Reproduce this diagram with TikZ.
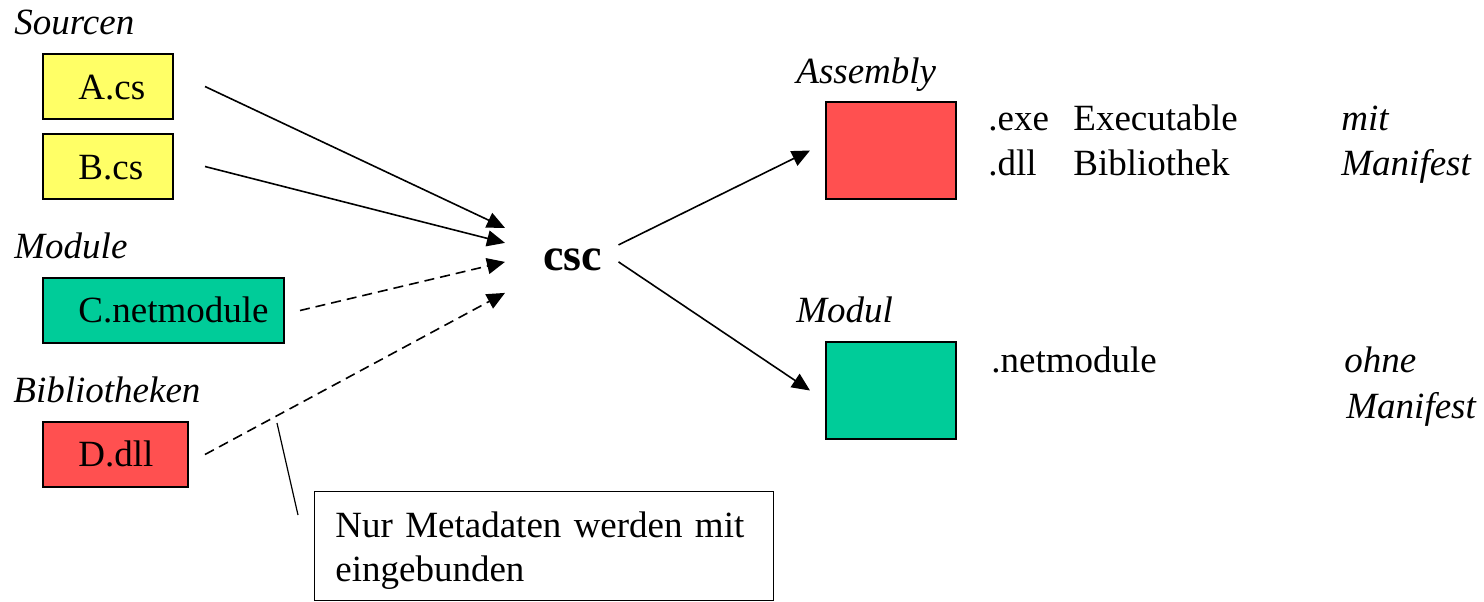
\documentclass[tikz,border=0pt]{standalone}
\usepackage{fontspec}
\setmainfont{Liberation Serif}
\usetikzlibrary{arrows.meta,calc}
\definecolor{srcyellow}{RGB}{255,255,102}
\definecolor{modgreen}{RGB}{0,204,153}
\definecolor{libred}{RGB}{255,80,80}
\begin{document}
\begin{tikzpicture}[x=0.5pt,y=-0.5pt,
  txt/.style={anchor=base west, inner sep=0, font=\fontsize{18.5}{22}\selectfont},
  lbl/.style={anchor=base west, inner sep=0, font=\fontsize{18.5}{22}\selectfont\itshape},
  filebox/.style={draw=black, line width=1pt, anchor=north west, inner sep=0},
  conn/.style={line width=0.8pt, -{Triangle[length=9pt,width=8pt]}},
  dconn/.style={conn, dash pattern=on 5pt off 3pt}]
\useasboundingbox (0,0) rectangle (1484,601);

% left side labels
\node[lbl] (lSrc) at (14,34) {Sourcen};
\node[lbl] (lMod) at (14,258) {Module};
\node[lbl] (lBib) at (13,402) {Bibliotheken};

% input boxes
\node[filebox, fill=srcyellow, minimum width=65pt, minimum height=32.5pt] (A) at (42,53) {};
\node[filebox, fill=srcyellow, minimum width=65pt, minimum height=32.5pt] (B) at (42,133) {};
\node[filebox, fill=modgreen, minimum width=120.5pt, minimum height=32.5pt] (C) at (42,277) {};
\node[filebox, fill=libred, minimum width=72.5pt, minimum height=32.5pt] (D) at (42,421) {};
\node[txt] (tA) at (78,99) {A.cs};
\node[txt] (tB) at (78,179) {B.cs};
\node[txt] (tC) at (78,322) {C.netmodule};
\node[txt] (tD) at (78,466) {D.dll};

% compiler
\node[anchor=base west, inner sep=0, font=\fontsize{23}{27}\selectfont\bfseries] (csc) at (543,270) {csc};
\coordinate (inA) at ($(csc.west)+(-38,-31.5)$);
\coordinate (inB) at ($(csc.west)+(-38,-16.5)$);
\coordinate (inC) at ($(csc.west)+(-38,2.5)$);
\coordinate (inD) at ($(csc.west)+(-38,33.5)$);

% outputs
\node[lbl] (lAsm) at (796,83) {Assembly};
\node[lbl] (lModul) at (796,322) {Modul};
\node[filebox, fill=libred, minimum width=65pt, minimum height=48.5pt] (asm) at (825,101) {};
\node[filebox, fill=modgreen, minimum width=65pt, minimum height=48.5pt] (mod) at (825,341) {};

\node[txt] (exe) at (988,130) {.exe};
\node[txt] (exeT) at (1073,130) {Executable};
\node[lbl] (mit) at (1341,130) {mit};
\node[txt] (dll) at (988,175) {.dll};
\node[txt] (dllT) at (1073,175) {Bibliothek};
\node[lbl] (man1) at (1341,175) {Manifest};
\node[txt] (nm) at (991,372) {.netmodule};
\node[lbl] (ohne) at (1344,372) {ohne};
\node[lbl] (man2) at (1346,418) {Manifest};

% connectors
\draw[conn] ($(A.east)+(31,0)$) -- (inA);
\draw[conn] ($(B.east)+(31,0)$) -- (inB);
\draw[dconn] ($(C.east)+(15,0)$) -- (inC);
\draw[dconn] ($(D.east)+(16,0)$) -- (inD);
\draw[conn] ($(csc.east)+(16,-14.5)$) -- ($(asm.west)+(-15,0)$);
\draw[conn] ($(csc.east)+(16,2.5)$) -- ($(mod.west)+(-15,0)$);

% note
\node[draw=black, line width=0.6pt, anchor=north west, inner sep=0, minimum width=229.5pt, minimum height=54.5pt] (notebox) at (314,491) {};
\node[txt, text width=210pt, align=left] (note) at (335,537) {Nur Metadaten werden mit\\eingebunden};
\coordinate (lead) at (277,423);
\draw[line width=0.6pt] (lead) -- ($(notebox.north west)+(-16,24)$);
\end{tikzpicture}
\end{document}
